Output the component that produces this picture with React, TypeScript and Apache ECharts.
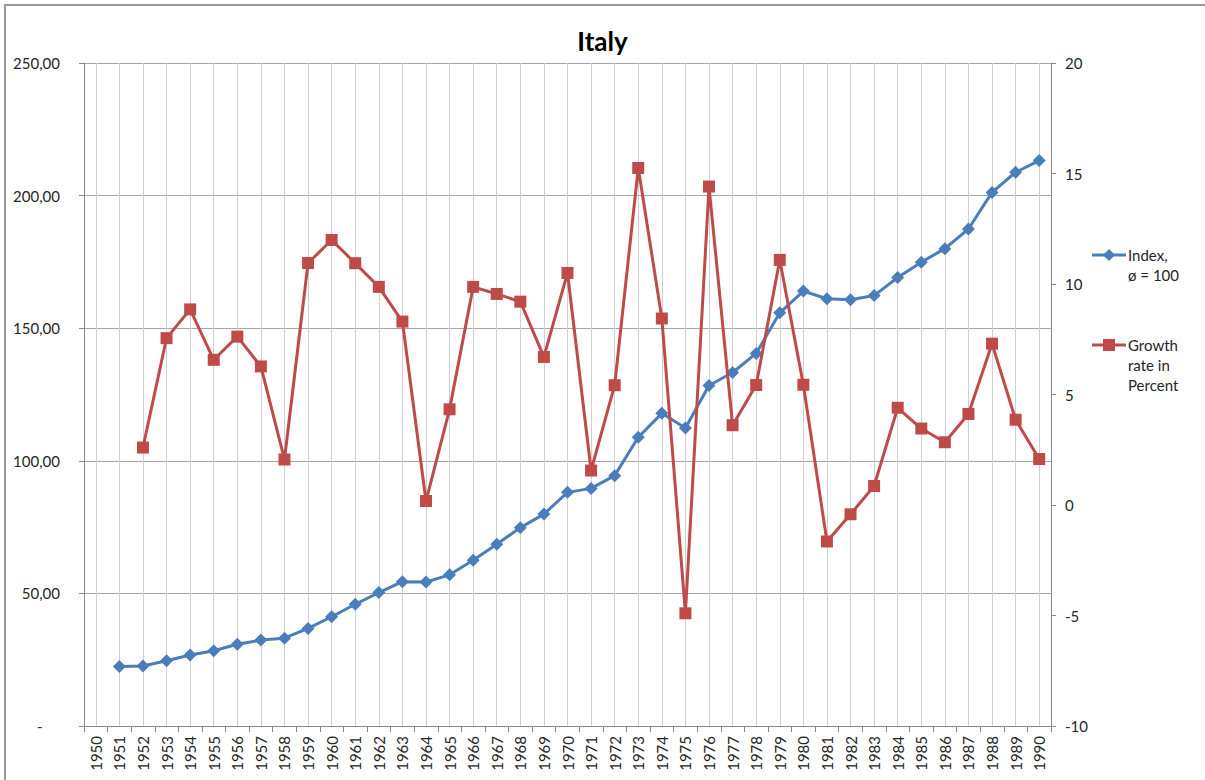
import React, { useEffect, useRef } from "react";
import * as echarts from "echarts";

const years = [
  "1950", "1951", "1952", "1953", "1954", "1955", "1956", "1957", "1958", "1959",
  "1960", "1961", "1962", "1963", "1964", "1965", "1966", "1967", "1968", "1969",
  "1970", "1971", "1972", "1973", "1974", "1975", "1976", "1977", "1978", "1979",
  "1980", "1981", "1982", "1983", "1984", "1985", "1986", "1987", "1988", "1989",
  "1990",
];

const indexValues = [
  null, 22.4, 22.6, 24.6, 26.8, 28.4, 30.8, 32.4, 33.1, 36.8,
  41.2, 45.9, 50.3, 54.4, 54.3, 57.0, 62.5, 68.5, 74.8, 79.9,
  88.1, 89.6, 94.4, 108.9, 117.9, 112.4, 128.4, 133.3, 140.5, 155.8,
  164.0, 161.1, 160.7, 162.3, 169.1, 174.9, 180.0, 187.4, 201.2, 208.8,
  213.2,
];

const growthValues = [
  null, null, 2.6, 7.55, 8.85, 6.57, 7.62, 6.27, 2.06, 10.95,
  11.99, 10.94, 9.87, 8.3, 0.18, 4.33, 9.87, 9.55, 9.2, 6.7,
  10.5, 1.56, 5.42, 15.25, 8.44, -4.9, 14.41, 3.61, 5.43, 11.09,
  5.44, -1.65, -0.42, 0.86, 4.4, 3.46, 2.84, 4.12, 7.3, 3.86,
  2.08,
];

const leftTicks = { min: 0, max: 250, interval: 50 };
const rightTicks = { min: -10, max: 20, interval: 5 };

const title = "Italy";
const indexName = "Index,\nø = 100";
const growthName = "Growth\nrate in\nPercent";

const BLUE = "#4A7EBB";
const RED = "#BE4B48";
const FONT = "Lato, 'Open Sans', sans-serif";
const TEXT = "#262626";

export default function App() {
  const ref = useRef<HTMLDivElement>(null);

  useEffect(() => {
    if (!ref.current) return;
    const chart = echarts.init(ref.current, null, { renderer: "svg" });
    const option = {
      animation: false,
      backgroundColor: "#ffffff",
      textStyle: { fontFamily: FONT },
      title: {
        text: title,
        left: "center",
        top: 23,
        textStyle: { fontFamily: FONT, fontSize: 26, fontWeight: "bold", color: "#000" },
      },
      grid: { left: 84, right: 154, top: 63, bottom: 54, containLabel: false },
      xAxis: {
        type: "category",
        data: years,
        boundaryGap: true,
        axisLine: { show: true, lineStyle: { color: "#888", width: 1 } },
        axisTick: { show: true, length: 6, lineStyle: { color: "#888" } },
        axisLabel: {
          rotate: 90,
          interval: 0,
          margin: 10,
          fontSize: 15,
          color: TEXT,
          fontFamily: FONT,
        },
        splitLine: {
          show: true,
          alignWithLabel: true,
          interval: 0,
          lineStyle: { color: "#d0d0d0", width: 1 },
        },
      },
      yAxis: [
        {
          type: "value",
          min: leftTicks.min,
          max: leftTicks.max,
          interval: leftTicks.interval,
          position: "left",
          axisLine: { show: true, lineStyle: { color: "#888" } },
          axisTick: { show: true, length: 5, lineStyle: { color: "#888" } },
          axisLabel: {
            margin: 24,
            fontSize: 15,
            color: TEXT,
            fontFamily: FONT,
            formatter: (v: number) => (v === 0 ? "-\u2007\u2007" : v.toFixed(2).replace(".", ",")),
          },
          splitLine: { show: true, lineStyle: { color: "#a6a6a6", width: 1 } },
        },
        {
          type: "value",
          min: rightTicks.min,
          max: rightTicks.max,
          interval: rightTicks.interval,
          position: "right",
          axisLine: { show: true, lineStyle: { color: "#888" } },
          axisTick: { show: true, length: 5, lineStyle: { color: "#888" } },
          axisLabel: { margin: 14, fontSize: 15, color: TEXT, fontFamily: FONT },
          splitLine: { show: false },
        },
      ],
      series: [
        {
          name: "Index",
          type: "line",
          data: indexValues,
          yAxisIndex: 0,
          symbol: "diamond",
          symbolSize: 13,
          lineStyle: { color: BLUE, width: 3 },
          itemStyle: { color: BLUE },
          connectNulls: false,
          z: 2,
        },
        {
          name: "Growth",
          type: "line",
          data: growthValues,
          yAxisIndex: 1,
          symbol: "rect",
          symbolSize: 12,
          lineStyle: { color: RED, width: 3 },
          itemStyle: { color: RED },
          z: 3,
        },
      ],
      graphic: [
        {
          type: "rect",
          shape: { x: 5, y: 5, width: 1215, height: 800 },
          style: { fill: "none", stroke: "#9a9a9a", lineWidth: 2 },
          silent: true,
        },
        {
          type: "line",
          shape: { x1: 1092, y1: 255, x2: 1126, y2: 255 },
          style: { stroke: BLUE, lineWidth: 3 },
        },
        {
          type: "polygon",
          shape: { points: [[1109, 249], [1115, 255], [1109, 261], [1103, 255]] },
          style: { fill: BLUE },
        },
        {
          type: "text",
          x: 1128,
          y: 245,
          style: {
            text: indexName,
            fontFamily: FONT,
            fontSize: 15,
            lineHeight: 20,
            fill: TEXT,
            textVerticalAlign: "top",
          },
        },
        {
          type: "line",
          shape: { x1: 1092, y1: 345, x2: 1126, y2: 345 },
          style: { stroke: RED, lineWidth: 3 },
        },
        {
          type: "rect",
          shape: { x: 1103, y: 339, width: 12, height: 12 },
          style: { fill: RED },
        },
        {
          type: "text",
          x: 1128,
          y: 335,
          style: {
            text: growthName,
            fontFamily: FONT,
            fontSize: 15,
            lineHeight: 20,
            fill: TEXT,
            textVerticalAlign: "top",
          },
        },
      ],
    };
    chart.setOption(option as any);
    return () => chart.dispose();
  }, []);

  return (
    <div
      ref={ref}
      style={{ position: "fixed", left: 0, top: 0, width: 1205, height: 780 }}
    />
  );
}
